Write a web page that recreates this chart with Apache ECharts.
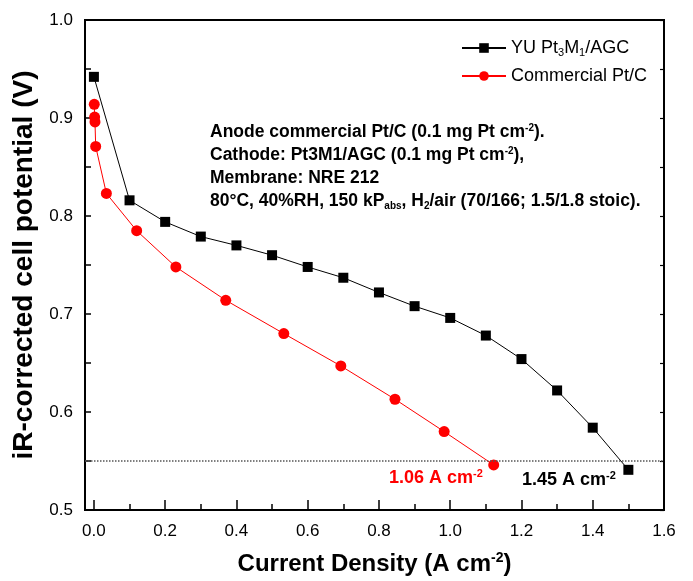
<!DOCTYPE html>
<html>
<head>
<meta charset="utf-8">
<script src="https://cdn.jsdelivr.net/npm/echarts@6/dist/echarts.min.js"></script>
<style>html,body{margin:0;padding:0;background:#fff;}#c{width:693px;height:581px;}</style>
</head>
<body>
<div id="c"></div>
<script>
// ---- data ----
const xBlack = [0.0, 0.1, 0.2, 0.3, 0.4, 0.5, 0.6, 0.7, 0.8, 0.9, 1.0, 1.1, 1.2, 1.3, 1.4, 1.5];
const yBlack = [0.942, 0.816, 0.794, 0.779, 0.770, 0.760, 0.748, 0.737, 0.722, 0.708, 0.696, 0.678, 0.654, 0.622, 0.584, 0.541];
const xRed = [0.001, 0.002, 0.003, 0.005, 0.035, 0.12, 0.23, 0.37, 0.533, 0.693, 0.845, 0.983, 1.122];
const yRed = [0.914, 0.901, 0.896, 0.871, 0.823, 0.785, 0.748, 0.714, 0.680, 0.647, 0.613, 0.580, 0.546];
const xMajorTicks = [0.0, 0.2, 0.4, 0.6, 0.8, 1.0, 1.2, 1.4, 1.6];
const xMinorTicks = [0.1, 0.3, 0.5, 0.7, 0.9, 1.1, 1.3, 1.5];
const refLineY = 0.553;
const seriesNames = ['YU Pt3M1/AGC', 'Commercial Pt/C'];
const legendRich = {
  'YU Pt3M1/AGC': '{n|YU Pt}{s|3}{n|M}{s|1}{n|/AGC}',
  'Commercial Pt/C': '{n|Commercial Pt/C}'
};

const FONT = '"Liberation Sans", Arial, sans-serif';
const chart = echarts.init(document.getElementById('c'));

const blackData = xBlack.map((x, i) => [x, yBlack[i]]);
const redData = xRed.map((x, i) => [x, yRed[i]]);

const supRich = {
  b: {fontFamily: FONT, fontWeight: 'bold', fontSize: 17.5, verticalAlign: 'middle'},
  sup: {fontFamily: FONT, fontWeight: 'bold', fontSize: 10, padding: [0, 0, 9, 0], verticalAlign: 'middle'},
  sub: {fontFamily: FONT, fontWeight: 'bold', fontSize: 10, padding: [10, 0, 0, 0], verticalAlign: 'middle'}
};

chart.setOption({
  animation: false,
  backgroundColor: '#fff',
  grid: {left: 85, right: 29, top: 20, bottom: 69, show: true, borderColor: '#000', borderWidth: 2, containLabel: false},
  legend: {
    orient: 'vertical',
    left: 456,
    top: 34,
    itemWidth: 44,
    itemHeight: 12,
    itemGap: 9,
    data: seriesNames,
    formatter: n => legendRich[n],
    textStyle: {
      fontFamily: FONT, fontSize: 18, color: '#000',
      rich: {
        n: {fontFamily: FONT, fontSize: 18, color: '#000', verticalAlign: 'middle'},
        s: {fontFamily: FONT, fontSize: 11, color: '#000', padding: [9, 0, 0, 0], verticalAlign: 'middle'}
      }
    }
  },
  xAxis: [
    {
      type: 'value', min: -0.025, max: 1.6, position: 'bottom',
      name: 'Current Density (A cm{sup|-2})',
      nameLocation: 'middle', nameGap: 41,
      nameTextStyle: {
        fontFamily: FONT, fontWeight: 'bold', fontSize: 24, color: '#000',
        rich: {sup: {fontFamily: FONT, fontWeight: 'bold', fontSize: 14, padding: [0, 0, 12, 0], color: '#000'}}
      },
      axisLine: {show: true, onZero: false, lineStyle: {color: '#000', width: 2}},
      axisTick: {show: true, inside: true, length: 10, customValues: xMajorTicks, lineStyle: {color: '#000', width: 1.5}},
      axisLabel: {show: true, customValues: xMajorTicks, margin: 13, fontFamily: FONT, fontSize: 17, color: '#000', formatter: v => v.toFixed(1)},
      splitLine: {show: false}
    },
    {
      type: 'value', min: -0.025, max: 1.6, position: 'bottom',
      axisLine: {show: false},
      axisTick: {show: true, inside: true, length: 6, customValues: xMinorTicks, lineStyle: {color: '#000', width: 1.5}},
      axisLabel: {show: false},
      splitLine: {show: false}
    }
  ],
  yAxis: [
    {
      type: 'value', min: 0.5, max: 1.0, interval: 0.1, position: 'left',
      name: 'iR-corrected cell potential (V)',
      nameLocation: 'middle', nameGap: 47,
      nameTextStyle: {fontFamily: FONT, fontWeight: 'bold', fontSize: 28, color: '#000'},
      axisLine: {show: true, onZero: false, lineStyle: {color: '#000', width: 2}},
      axisTick: {show: true, inside: true, length: 6, lineStyle: {color: '#000', width: 1.5}},
      minorTick: {show: true, splitNumber: 2, length: 6, lineStyle: {color: '#000', width: 1.5}},
      axisLabel: {margin: 12, fontFamily: FONT, fontSize: 17, color: '#000', formatter: v => v.toFixed(1)},
      splitLine: {show: false}, minorSplitLine: {show: false}
    },
    {
      type: 'value', min: 0.5, max: 1.0, interval: 0.1, position: 'right',
      axisLine: {show: true, onZero: false, lineStyle: {color: '#000', width: 2}},
      axisTick: {show: true, inside: true, length: 4, lineStyle: {color: '#000', width: 1.2}},
      minorTick: {show: true, splitNumber: 2, length: 4, lineStyle: {color: '#000', width: 1.2}},
      axisLabel: {show: false},
      splitLine: {show: false}
    }
  ],
  series: [
    {
      name: seriesNames[0], type: 'line', data: blackData,
      symbol: 'rect', symbolSize: 10,
      lineStyle: {color: '#000', width: 1},
      itemStyle: {color: '#000'},
      markLine: {
        silent: true, symbol: 'none', label: {show: false},
        lineStyle: {color: '#555', type: 'dotted', width: 1.5},
        data: [{yAxis: refLineY}]
      },
      z: 3
    },
    {
      name: seriesNames[1], type: 'line', data: redData,
      symbol: 'circle', symbolSize: 11,
      lineStyle: {color: '#ff0000', width: 1},
      itemStyle: {color: '#ff0000'},
      z: 4
    }
  ],
  graphic: [
    {
      type: 'text', left: 210, top: 121,
      style: {
        text: [
          '{b|Anode commercial Pt/C (0.1 mg Pt cm}{sup|-2}{b|).}',
          '{b|Cathode: Pt3M1/AGC (0.1 mg Pt cm}{sup|-2}{b|),}',
          '{b|Membrane: NRE 212}',
          '{b|80°C, 40%RH, 150 kP}{sub|abs}{b|, H}{sub|2}{b|/air (70/166; 1.5/1.8 stoic).}'
        ].join('\n'),
        rich: supRich,
        lineHeight: 23,
        fill: '#000'
      }
    },
    {
      type: 'text', left: 389, top: 468,
      style: {
        text: '{b|1.06 A cm}{sup|-2}',
        rich: {
          b: {fontFamily: FONT, fontWeight: 'bold', fontSize: 18, fill: '#ff0000', verticalAlign: 'middle'},
          sup: {fontFamily: FONT, fontWeight: 'bold', fontSize: 11, fill: '#ff0000', padding: [0, 0, 9, 0], verticalAlign: 'middle'}
        }
      }
    },
    {
      type: 'text', left: 522, top: 470,
      style: {
        text: '{b|1.45 A cm}{sup|-2}',
        rich: {
          b: {fontFamily: FONT, fontWeight: 'bold', fontSize: 18, fill: '#000', verticalAlign: 'middle'},
          sup: {fontFamily: FONT, fontWeight: 'bold', fontSize: 11, fill: '#000', padding: [0, 0, 9, 0], verticalAlign: 'middle'}
        }
      }
    }
  ]
});
</script>
</body>
</html>
